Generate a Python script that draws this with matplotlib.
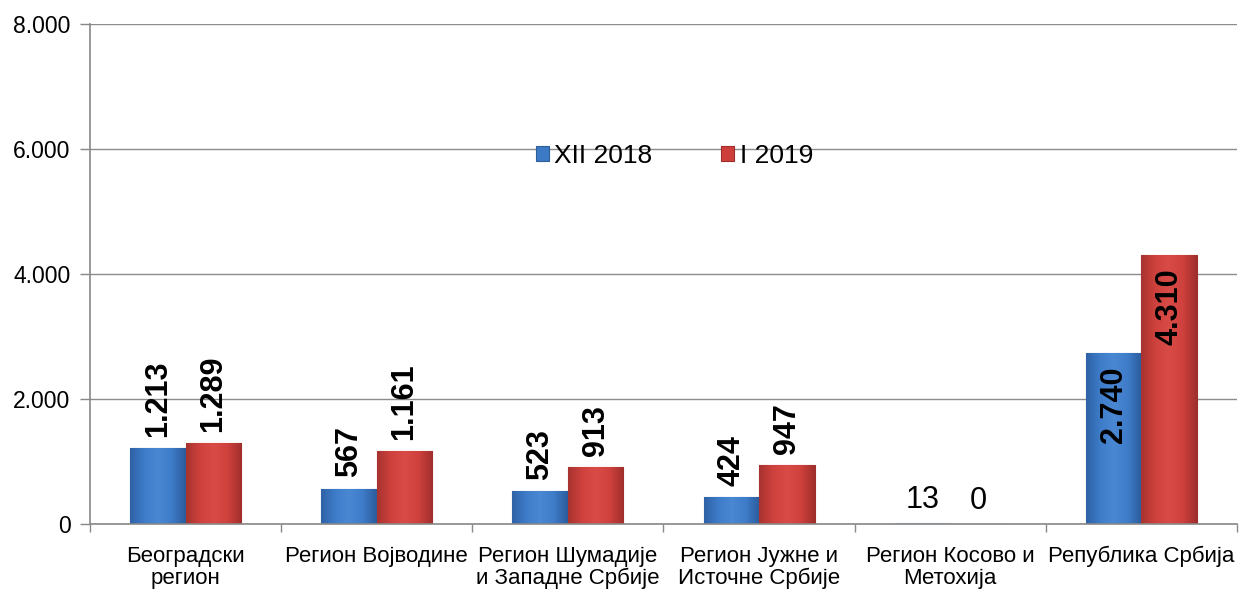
import matplotlib
matplotlib.use("Agg")
import matplotlib.pyplot as plt
import numpy as np
from matplotlib.colors import LinearSegmentedColormap

categories = ["Београдски\nрегион", "Регион Војводине", "Регион Шумадије\nи Западне Србије",
              "Регион Јужне и\nИсточне Србије", "Регион Косово и\nМетохија", "Република Србија"]
series_names = ["XII 2018", "I 2019"]
values_2018 = [1213, 567, 523, 424, 13, 2740]
values_2019 = [1289, 1161, 913, 947, 0, 4310]
labels_2018 = ["1.213", "567", "523", "424", "13", "2.740"]
labels_2019 = ["1.289", "1.161", "913", "947", "0", "4.310"]
yticks = [0, 2000, 4000, 6000, 8000]
ytick_labels = ["0", "2.000", "4.000", "6.000", "8.000"]

plt.rcParams['font.family'] = ['Liberation Sans', 'DejaVu Sans']

fig = plt.figure(figsize=(12.52, 5.90), dpi=100)
ax = fig.add_axes([0.0719, 0.1119, 0.9161, 0.8474])

x = np.arange(len(categories))
w = 0.29
blue, blue_edge = "#3D7AC6", "#2E5E9A"
red, red_edge = "#CE3F3B", "#9E2E2B"

b1 = ax.bar(x - w/2, values_2018, w, color=blue, edgecolor=blue_edge, linewidth=0.8, label=series_names[0], zorder=3)
b2 = ax.bar(x + w/2, values_2019, w, color=red, edgecolor=red_edge, linewidth=0.8, label=series_names[1], zorder=3)
b1[4].set_color("#A9C4E6")

ax.set_xlim(-0.5, len(categories) - 0.5)
ax.set_ylim(0, 8000)

# gentle bevel-like gradient inside each bar
cmaps = {
    0: LinearSegmentedColormap.from_list("b", ["#2F62A6", "#3E7CC9", "#4A88D4", "#3E7CC9", "#2C5C9C"]),
    1: LinearSegmentedColormap.from_list("r", ["#A83330", "#CF413D", "#D94B46", "#CF413D", "#A02F2C"]),
}
grad = np.linspace(0, 1, 64).reshape(1, -1)
for si, bars in enumerate((b1, b2)):
    for bar in bars:
        h = bar.get_height()
        if h < 100:
            continue
        x0, wd = bar.get_x(), bar.get_width()
        im = ax.imshow(grad, cmap=cmaps[si], aspect='auto', extent=(x0, x0 + wd, 0, h),
                       zorder=3.1, interpolation='bicubic')
        im.set_clip_path(bar)

ax.set_xlim(-0.5, len(categories) - 0.5)
ax.set_ylim(0, 8000)
ax.set_yticks(yticks)
ax.set_yticklabels(ytick_labels, fontsize=16.5)
ax.set_xticks(x)
ax.set_xticklabels(categories, fontsize=16, linespacing=1.05)
ax.tick_params(axis='x', length=0, pad=16)
ax.set_xticks(np.arange(len(categories) + 1) - 0.5, minor=True)
ax.tick_params(axis='x', which='minor', length=6, color='#888888', width=1)
ax.tick_params(axis='y', length=7, color='#888888', width=1, pad=7)

ax.grid(axis='y', color='#8c8c8c', linewidth=1, zorder=0)
for s in ['top', 'right']:
    ax.spines[s].set_visible(False)
for s in ['left', 'bottom']:
    ax.spines[s].set_color('#888888')
    ax.spines[s].set_linewidth(1.2)
    ax.spines[s].set_zorder(5)

for bars, labs in ((b1, labels_2018), (b2, labels_2019)):
    for bar, lab in zip(bars, labs):
        cx = bar.get_x() + bar.get_width() / 2
        h = bar.get_height()
        if h >= 2500:
            ax.annotate(lab, (cx, h), xytext=(0, -10), textcoords='offset points',
                        rotation=90, ha='center', va='top', fontsize=22, fontweight='bold', zorder=6)
        elif h < 100:
            ax.annotate(lab, (cx, h), xytext=(0, 6), textcoords='offset points',
                        ha='center', va='bottom', fontsize=22, zorder=6)
        else:
            ax.annotate(lab, (cx, h), xytext=(0, 8), textcoords='offset points',
                        rotation=90, ha='center', va='bottom', fontsize=22, fontweight='bold', zorder=6)

leg = ax.legend(loc='center', bbox_to_anchor=(0.5096, 0.737), ncol=2, frameon=False, fontsize=19,
                handlelength=0.5, handleheight=0.5, handletextpad=0.2, columnspacing=2.6)

fig.savefig("out.png", dpi=100)
